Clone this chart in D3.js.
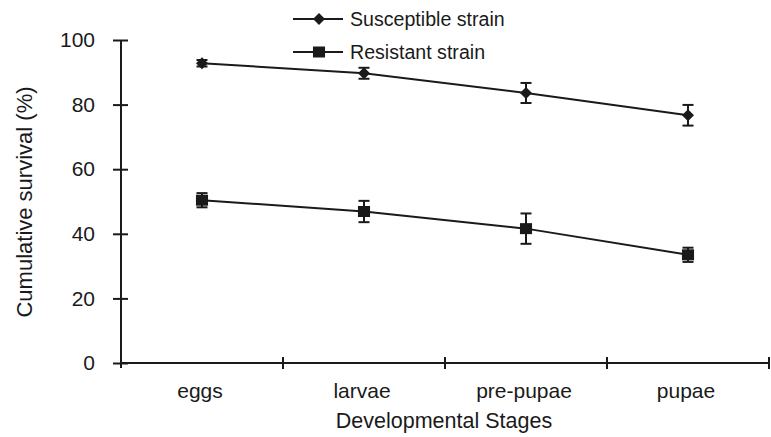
<!DOCTYPE html>
<html><head><meta charset="utf-8">
<script src="https://cdn.jsdelivr.net/npm/d3@7"></script>
<style>body{margin:0;background:#fff}svg{display:block}text{font-family:"Liberation Sans",Arial,Helvetica,sans-serif;fill:#1a1a1a}</style>
</head><body><svg id="c" width="771" height="437"></svg>
<script>
const stages = ["eggs", "larvae", "pre-pupae", "pupae"];
const susceptible = [92.8, 89.7, 83.6, 76.7];
const susceptibleErr = [1.0, 1.7, 3.1, 3.2];
const resistant = [50.4, 46.9, 41.6, 33.5];
const resistantErr = [2.2, 3.3, 4.7, 2.2];
const yTicks = [0, 20, 40, 60, 80, 100];
const seriesNames = ["Susceptible strain", "Resistant strain"];

const svg = d3.select("#c");
const ink = "#1a1a1a";
const x = d3.scaleBand().domain(stages).range([121, 769]);
const y = d3.scaleLinear().domain([0, 100]).range([363, 40]);

// Y axis
const ya = svg.append("g").attr("transform", "translate(121,0)")
  .call(d3.axisLeft(y).tickValues(yTicks).tickSize(8).tickPadding(18));
ya.select(".domain").remove();
ya.selectAll(".tick line").attr("x1", -8).attr("x2", 7).attr("stroke", ink).attr("stroke-width", 2);
ya.selectAll(".tick text").attr("font-size", 21).attr("fill", ink).attr("font-family", "Liberation Sans, Arial, sans-serif");
svg.append("line").attr("x1", 121).attr("x2", 121).attr("y1", y(100)).attr("y2", y(0) + 5)
  .attr("stroke", ink).attr("stroke-width", 2);

// X axis
svg.append("line").attr("x1", 121).attr("x2", 769).attr("y1", y(0)).attr("y2", y(0))
  .attr("stroke", ink).attr("stroke-width", 2);
const bounds = stages.map(s => x(s) + x.bandwidth());
svg.selectAll(".xt").data(bounds).enter().append("line")
  .attr("x1", d => d).attr("x2", d => d).attr("y1", y(0) - 6).attr("y2", y(0) + 6)
  .attr("stroke", ink).attr("stroke-width", 2);
svg.selectAll(".xl").data(stages).enter().append("text")
  .attr("x", d => x(d) + x.bandwidth() / 2 - 2).attr("y", 398)
  .attr("text-anchor", "middle").attr("font-size", 21).text(d => d);

// axis titles
svg.append("text").attr("x", 444).attr("y", 428).attr("text-anchor", "middle")
  .attr("font-size", 21.5).text("Developmental Stages");
svg.append("text").attr("transform", "translate(32,202) rotate(-90)").attr("text-anchor", "middle")
  .attr("font-size", 22).text("Cumulative survival (%)");

// series
const cx = d => x(d) + x.bandwidth() / 2;
const line = d3.line().x(d => cx(d.s)).y(d => y(d.v));
const diamond = d3.symbol().type(d3.symbolSquare).size(72);
const square = d3.symbol().type(d3.symbolSquare).size(121);
const symT = [(X, Y) => `translate(${X},${Y}) rotate(45)`, (X, Y) => `translate(${X},${Y}) scale(1.1,1)`];

function drawSeries(vals, errs, sym, tf) {
  const data = stages.map((s, i) => ({ s, v: vals[i], e: errs[i] }));
  svg.append("path").datum(data).attr("d", line).attr("fill", "none")
    .attr("stroke", ink).attr("stroke-width", 2);
  const g = svg.append("g");
  data.forEach(d => {
    const X = cx(d.s);
    g.append("line").attr("x1", X).attr("x2", X).attr("y1", y(d.v + d.e)).attr("y2", y(d.v - d.e))
      .attr("stroke", ink).attr("stroke-width", 2);
    [d.v + d.e, d.v - d.e].forEach(v => g.append("line").attr("x1", X - 5.5).attr("x2", X + 5.5)
      .attr("y1", y(v)).attr("y2", y(v)).attr("stroke", ink).attr("stroke-width", 2));
    g.append("path").attr("d", sym).attr("transform", tf(X, y(d.v))).attr("fill", ink);
  });
}
drawSeries(susceptible, susceptibleErr, diamond, symT[0]);
drawSeries(resistant, resistantErr, square, symT[1]);

// legend
const legY = [19, 52];
const syms = [diamond, square];
seriesNames.forEach((n, i) => {
  svg.append("line").attr("x1", 293).attr("x2", 343).attr("y1", legY[i]).attr("y2", legY[i])
    .attr("stroke", ink).attr("stroke-width", 2);
  svg.append("path").attr("d", syms[i]).attr("transform", symT[i](319, legY[i])).attr("fill", ink);
  svg.append("text").attr("x", 350).attr("y", legY[i] + 7).attr("font-size", 19.6).text(n);
});
</script></body></html>
